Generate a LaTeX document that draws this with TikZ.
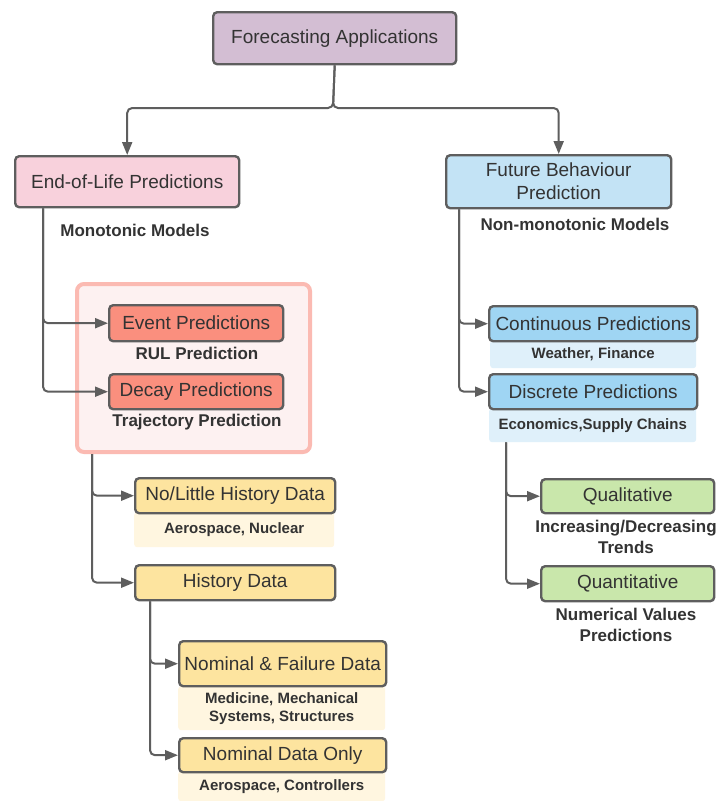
\documentclass[tikz,border=0pt]{standalone}
\usepackage{fontspec}
\setmainfont{Liberation Sans}
\usepackage{tikz}
\usetikzlibrary{arrows.meta}
\usetikzlibrary{positioning}
\usepackage{color}

\definecolor{linegray}{HTML}{5E5E5E}
\definecolor{textgray}{HTML}{333333}
\definecolor{topfill}{HTML}{D3BED3}
\definecolor{pinkfill}{HTML}{F8D1DC}
\definecolor{bluefill}{HTML}{C3E3F5}
\definecolor{salmonfill}{HTML}{FA8F7E}
\definecolor{grpfill}{HTML}{FDF1F1}
\definecolor{grpdraw}{HTML}{FBBAB2}
\definecolor{yellowfill}{HTML}{FDE49F}
\definecolor{yellownote}{HTML}{FFF6E0}
\definecolor{contfill}{HTML}{9FD5F3}
\definecolor{bluenote}{HTML}{DFF0FA}
\definecolor{greenfill}{HTML}{C9E7AB}

\tikzset{
    box/.style={draw=linegray,line width=2.4pt,rounded corners=4pt,inner sep=0pt,
        anchor=north west,text=textgray,align=center,
        font=\fontsize{19}{23}\selectfont},
    note/.style={rounded corners=3pt,inner sep=0pt,anchor=north west,
        text=textgray,align=center,font=\fontsize{15}{18}\bfseries\selectfont},
    lbl/.style={text=textgray,align=center,font=\fontsize{17}{21}\bfseries\selectfont},
    conn/.style={draw=linegray,line width=2pt,rounded corners=5pt,
        -{Triangle[length=13pt,width=10pt]}},
}

\begin{document}
\begin{tikzpicture}[x=1pt,y=-1pt]
    \useasboundingbox[fill=white] (0,0) rectangle (721,801);

    % top level
    \node[box,fill=topfill,minimum width=243,minimum height=52] (top) at (212,11) {Forecasting Applications};
    \node[box,fill=pinkfill,minimum width=224,minimum height=51] (eol) at (14,155) {End-of-Life Predictions};
    \node[box,fill=bluefill,minimum width=225,minimum height=53] (fbp) at (445,154) {Future Behaviour\\Prediction};
    \coordinate (split) at (333,108);
    \draw[conn] (top.south) -- (split) -| (eol.north);
    \draw[conn] (top.south) -- (split) -| (fbp.north);

    \node[lbl] (mono) at (135,230) {Monotonic Models};
    \node[lbl] (nonmono) at (575,224) {Non-monotonic Models};

    % end-of-life branch
    \node[anchor=north west,fill=grpfill,draw=grpdraw,line width=4pt,rounded corners=7pt,
        minimum width=233,minimum height=168,inner sep=0pt] (grp) at (75,282) {};
    \node[box,fill=salmonfill,minimum width=174,minimum height=36] (event) at (108,304) {Event Predictions};
    \node[lbl] (rul) at (197,353) {RUL Prediction};
    \node[box,fill=salmonfill,minimum width=174,minimum height=35] (decay) at (108,373) {Decay Predictions};
    \node[lbl] (traj) at (197,422) {Trajectory Prediction};
    \draw[conn] ([xshift=29]eol.south west) |- (event.west);
    \draw[conn] ([xshift=29]eol.south west) |- (decay.west);

    \node[note,fill=yellownote,minimum width=200,minimum height=35] (aeronuc) at (134,512) {Aerospace, Nuclear};
    \node[box,fill=yellowfill,minimum width=200,minimum height=35] (nolittle) at (134,477) {No/Little History Data};
    \node[box,fill=yellowfill,minimum width=200,minimum height=35] (hist) at (134,564) {History Data};
    \draw[conn] ([xshift=17]grp.south west) |- (nolittle.west);
    \draw[conn] ([xshift=17]grp.south west) |- (hist.west);

    \node[note,fill=yellownote,minimum width=207,minimum height=44] (medmech) at (178,686) {Medicine, Mechanical\\Systems, Structures};
    \node[note,fill=yellownote,minimum width=207,minimum height=30] (aerocon) at (178,771) {Aerospace, Controllers};
    \node[box,fill=yellowfill,minimum width=207,minimum height=45] (nomfail) at (178,640) {Nominal \& Failure Data};
    \node[box,fill=yellowfill,minimum width=207,minimum height=34] (nomonly) at (178,737) {Nominal Data Only};
    \draw[conn] ([xshift=16]hist.south west) |- (nomfail.west);
    \draw[conn] ([xshift=16]hist.south west) |- (nomonly.west);

    % future behaviour branch
    \node[note,fill=bluenote,minimum width=206,minimum height=28] (wfin) at (490,340) {Weather, Finance};
    \node[note,fill=bluenote,minimum width=207,minimum height=34] (econ) at (489,408) {Economics,Supply Chains};
    \node[box,fill=contfill,minimum width=208,minimum height=35] (cont) at (488,305) {Continuous Predictions};
    \node[box,fill=contfill,minimum width=208,minimum height=35] (disc) at (488,373) {Discrete Predictions};
    \draw[conn] ([xshift=14]fbp.south west) |- (cont.west);
    \draw[conn] ([xshift=14]fbp.south west) |- (disc.west);

    \node[box,fill=greenfill,minimum width=173,minimum height=34] (qual) at (540,478) {Qualitative};
    \node[lbl] (trends) at (626,537) {Increasing/Decreasing\\Trends};
    \node[box,fill=greenfill,minimum width=173,minimum height=35] (quant) at (540,565) {Quantitative};
    \node[lbl] (numval) at (626,625) {Numerical Values\\Predictions};
    \draw[conn] ([xshift=17]econ.south west) |- (qual.west);
    \draw[conn] ([xshift=17]econ.south west) |- (quant.west);
\end{tikzpicture}
\end{document}
